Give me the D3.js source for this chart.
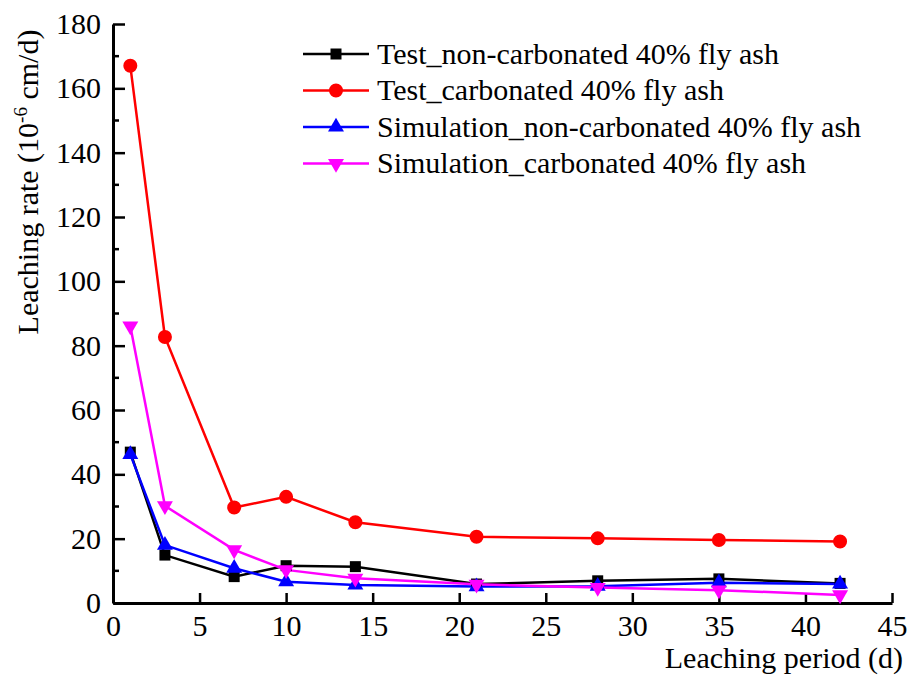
<!DOCTYPE html>
<html>
<head>
<meta charset="utf-8">
<script src="https://cdn.jsdelivr.net/npm/d3@7"></script>
<style>
  body { margin: 0; background: #fff; }
  svg text { fill: #000; }
</style>
</head>
<body>
<svg id="chart" width="908" height="684"></svg>
<script>
// data
const periods = [1, 3, 7, 10, 14, 21, 28, 35, 42];
const testNonCarb = [46.9, 14.9, 8.2, 11.6, 11.3, 5.9, 6.9, 7.5, 6.1];
const testCarb = [167.0, 82.7, 29.7, 33.0, 25.1, 20.6, 20.1, 19.6, 19.1];
const simNonCarb = [46.2, 18.0, 10.8, 6.6, 5.6, 5.1, 5.2, 6.3, 5.9];
const simCarb = [86.1, 30.2, 16.5, 10.3, 7.7, 5.8, 4.8, 4.0, 2.5];
const seriesNames = [
    'Test_non-carbonated 40% fly ash',
    'Test_carbonated 40% fly ash',
    'Simulation_non-carbonated 40% fly ash',
    'Simulation_carbonated 40% fly ash'
];
const xTicks = [0, 5, 10, 15, 20, 25, 30, 35, 40, 45];
const yTicks = [0, 20, 40, 60, 80, 100, 120, 140, 160, 180];

const FONT = '"Liberation Serif", "Times New Roman", serif';

const series = [
    {name: seriesNames[0], values: testNonCarb, color: '#000000', symbol: d3.symbolSquare, size: 121, rot: 0},
    {name: seriesNames[1], values: testCarb, color: '#ff0000', symbol: d3.symbolCircle, size: 154, rot: 0},
    {name: seriesNames[2], values: simNonCarb, color: '#0000ff', symbol: d3.symbolTriangle, size: 110, rot: 0},
    {name: seriesNames[3], values: simCarb, color: '#ff00ff', symbol: d3.symbolTriangle, size: 110, rot: 180}
];

const svg = d3.select('#chart')
    .attr('font-family', FONT);
const margin = {left: 113, right: 16, top: 24, bottom: 81};
const W = 908, H = 684;

const x = d3.scaleLinear().domain([0, 45]).range([margin.left, W - margin.right]);
const y = d3.scaleLinear().domain([0, 180]).range([H - margin.bottom, margin.top]);

//axes
const xAxis = svg.append('g')
    .attr('transform', 'translate(0,' + y(0) + ')')
    .call(d3.axisBottom(x).tickValues(xTicks).tickSizeInner(-10).tickSizeOuter(0).tickPadding(12));
const yAxis = svg.append('g')
    .attr('transform', 'translate(' + x(0) + ',0)')
    .call(d3.axisLeft(y).tickValues(yTicks).tickSizeInner(-12).tickSizeOuter(0).tickPadding(12));

// minor y ticks
yAxis.selectAll('.minor')
    .data(d3.range(10, 180, 20))
    .enter().append('line')
    .attr('class', 'minor')
    .attr('x1', 0).attr('x2', 6)
    .attr('y1', d => y(d)).attr('y2', d => y(d))
    .attr('stroke', '#000').attr('stroke-width', 2.5);

[xAxis, yAxis].forEach(g => {
    g.attr('font-family', FONT).attr('font-size', 30);
    g.select('.domain').attr('stroke', '#000').attr('stroke-width', 3);
    g.selectAll('.tick line').attr('stroke', '#000').attr('stroke-width', 2.5);
    g.selectAll('.tick text').attr('fill', '#000');
});
xAxis.selectAll('.tick text').attr('dy', '0.71em');

// axis titles
svg.append('text')
    .attr('x', 903).attr('y', 668)
    .attr('text-anchor', 'end')
    .attr('font-size', 30)
    .text('Leaching period (d)');

const yTitle = svg.append('text')
    .attr('transform', 'translate(38,182) rotate(-90)')
    .attr('text-anchor', 'middle')
    .attr('font-size', 30);
yTitle.append('tspan').text('Leaching rate (10');
yTitle.append('tspan').attr('dy', -11).attr('font-size', 19).text('-6');
yTitle.append('tspan').attr('dy', 11).text(' cm/d)');

// lines + markers
const line = d3.line().x((d, i) => x(periods[i])).y(d => y(d));

series.forEach(s => {
    svg.append('path')
        .datum(s.values)
        .attr('d', line)
        .attr('fill', 'none')
        .attr('stroke', s.color)
        .attr('stroke-width', 2.5);
});
series.forEach(s => {
    svg.append('g').selectAll('path')
        .data(s.values)
        .enter().append('path')
        .attr('d', d3.symbol().type(s.symbol).size(s.size))
        .attr('transform', (d, i) => 'translate(' + x(periods[i]) + ',' + y(d) + ') rotate(' + s.rot + ')')
        .attr('fill', s.color);
});

// legend
const legend = svg.append('g').attr('transform', 'translate(303,54)');
const rows = legend.selectAll('g').data(series).enter().append('g')
    .attr('transform', (d, i) => 'translate(0,' + i * 36.5 + ')');
rows.append('line')
    .attr('x1', 0).attr('x2', 66).attr('y1', 0).attr('y2', 0)
    .attr('stroke', d => d.color).attr('stroke-width', 2.5);
rows.append('path')
    .attr('d', d => d3.symbol().type(d.symbol).size(d.size)())
    .attr('transform', d => 'translate(33,0) rotate(' + d.rot + ')')
    .attr('fill', d => d.color);
rows.append('text')
    .attr('x', 74).attr('y', 0).attr('dy', '0.32em')
    .attr('font-size', 30)
    .text(d => d.name);
</script>
</body>
</html>
